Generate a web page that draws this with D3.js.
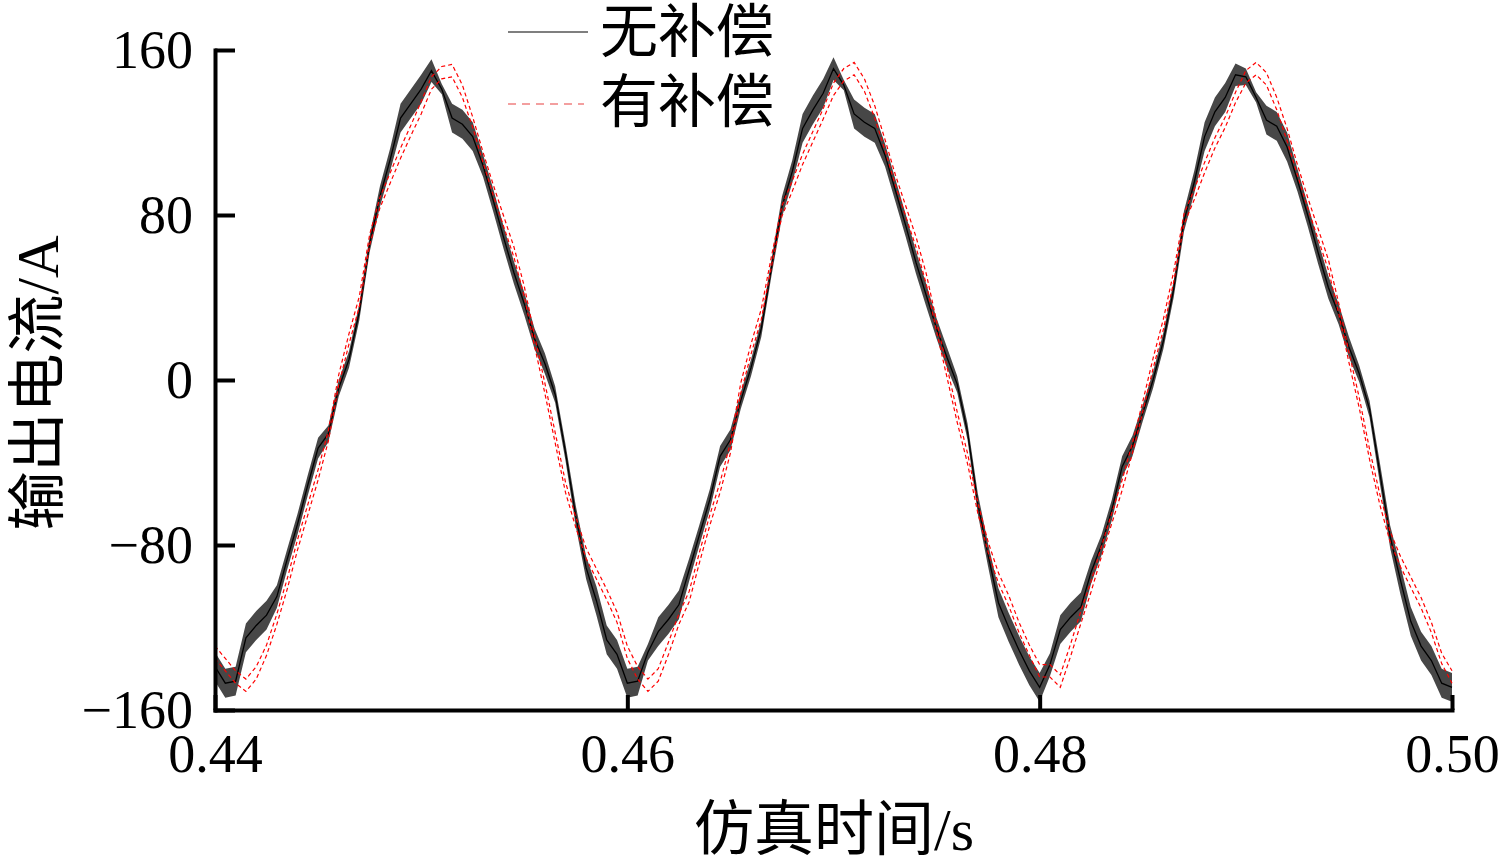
<!DOCTYPE html>
<html>
<head>
<meta charset="utf-8">
<script src="https://cdn.jsdelivr.net/npm/d3@7"></script>
<style>
  body { margin: 0; background: #fff; }
  svg text { font-family: "Liberation Serif", "Noto Sans CJK SC", serif; fill: #000; }
</style>
</head>
<body>
<svg id="chart" width="1505" height="866"></svg>
<script>
// sampling of the simulation trace, seconds
var sampleStart = 0.44;
var sampleStep = 0.0005;

var yTicks = [-160, -80, 0, 80, 160];
var xTicks = [0.44, 0.46, 0.48, 0.50];
var seriesNames = ['无补偿', '有补偿'];

// 无补偿 (black) output current, A
var uncompensated = [
  -139, -147, -146, -125, -119, -114, -105, -87, -70, -51, -33, -26, -4, 10, 33, 66, 89, 107, 127, 134,
  141, 150, 141, 127, 124, 118, 104, 87, 69, 52, 37, 20, 8, -7, -35, -66, -91, -107, -126, -133,
  -147, -146, -132, -122, -116, -109, -92, -75, -58, -37, -29, -10, 6, 25, 55, 84, 101, 122, 131, 139,
  151, 143, 129, 125, 122, 109, 92, 75, 57, 41, 25, 11, -2, -25, -60, -85, -108, -120, -131, -141,
  -149, -138, -121, -115, -110, -93, -80, -63, -42, -32, -16, 0, 19, 44, 77, 96, 118, 130, 137, 148,
  147, 137, 126, 123, 113, 97, 80, 62, 45, 32, 16, 3, -14, -45, -76, -97, -117, -129, -136, -147,
  -149
];
// switching ripple of the black trace, peak to peak, A
var uncompensatedRipple = [
  14, 14, 14, 14, 14, 14, 11, 10, 10, 10, 10, 8, 8, 8, 8, 8, 10, 11, 14, 14,
  14, 11, 5, 14, 14, 14, 11, 11, 11, 11, 11, 10, 10, 8, 8, 10, 11, 14, 14, 14,
  14, 14, 8, 14, 14, 14, 11, 10, 10, 10, 10, 8, 8, 8, 8, 10, 11, 14, 14, 14,
  11, 5, 14, 14, 14, 11, 11, 11, 11, 11, 10, 10, 8, 8, 10, 11, 14, 14, 14, 14,
  14, 11, 14, 14, 14, 11, 10, 10, 10, 10, 8, 8, 8, 8, 10, 11, 14, 14, 14, 11,
  8, 5, 14, 14, 14, 11, 11, 11, 11, 10, 10, 8, 8, 10, 11, 14, 14, 14, 14, 14,
  14
];

// 有补偿 (red dashed) output current, A
var compensated = [
  -132, -138, -144, -148, -142, -131, -116, -99, -80, -63, -46, -27, 0, 20, 38, 68, 86, 98, 110, 121,
  132, 144, 149, 150, 140, 125, 108, 92, 77, 62, 43, 19, -4, -28, -52, -69, -84, -94, -104, -115,
  -132, -142, -148, -143, -130, -116, -105, -86, -68, -52, -33, -4, 15, 32, 58, 82, 94, 107, 118, 129,
  141, 148, 151, 143, 130, 114, 97, 82, 67, 49, 26, 4, -18, -38, -62, -81, -96, -107, -120, -131,
  -141, -141, -146, -131, -115, -100, -83, -67, -51, -33, -13, 8, 27, 50, 78, 90, 103, 115, 125, 137,
  147, 151, 146, 134, 119, 102, 86, 71, 56, 35, 11, -11, -36, -58, -76, -88, -98, -108, -120, -135,
  -144
];
var compensatedRipple = [
  6, 6, 6, 6, 6, 5, 5, 5, 5, 5, 5, 5, 5, 5, 5, 5, 5, 5, 5, 5,
  6, 6, 6, 6, 6, 5, 5, 5, 5, 5, 5, 5, 5, 5, 5, 5, 5, 5, 5, 5,
  6, 6, 6, 6, 6, 5, 5, 5, 5, 5, 5, 5, 5, 5, 5, 5, 5, 5, 5, 5,
  6, 6, 6, 6, 6, 5, 5, 5, 5, 5, 5, 5, 5, 5, 5, 5, 5, 5, 5, 5,
  6, 6, 6, 6, 6, 5, 5, 5, 5, 5, 5, 5, 5, 5, 5, 5, 5, 5, 5, 5,
  6, 6, 6, 6, 6, 5, 5, 5, 5, 5, 5, 5, 5, 5, 5, 5, 5, 5, 5, 5,
  6
];

(function() {
    var svg = d3.select('#chart');
    var left = 215, right = 1452, top = 50, bottom = 710;

    var x = d3.scaleLinear().domain([0.44, 0.50]).range([left, right]);
    var y = d3.scaleLinear().domain([-160, 160]).range([bottom, top]);

    function rows(values, ripple) {
        return values.map(function(v, i) {
            return {t: sampleStart + i * sampleStep, v: v, r: ripple[i]};
        });
    }
    var blackData = rows(uncompensated, uncompensatedRipple);
    var redData = rows(compensated, compensatedRipple);

    var plot = svg.append('g');

    // black trace: ripple band + centre line
    plot.append('path')
        .datum(blackData)
        .attr('fill', '#000')
        .attr('fill-opacity', 0.72)
        .attr('d', d3.area()
            .x(function(d) { return x(d.t); })
            .y0(function(d) { return y(d.v - d.r / 2); })
            .y1(function(d) { return y(d.v + d.r / 2); }));
    plot.append('path')
        .datum(blackData)
        .attr('fill', 'none')
        .attr('stroke', '#000')
        .attr('stroke-width', 1.3)
        .attr('d', d3.line()
            .x(function(d) { return x(d.t); })
            .y(function(d) { return y(d.v); }));

    // red trace: upper and lower ripple edges, dashed
    [1, -1].forEach(function(side) {
        plot.append('path')
            .datum(redData)
            .attr('fill', 'none')
            .attr('stroke', '#ff0000')
            .attr('stroke-width', 1.2)
            .attr('stroke-dasharray', '4,3')
            .attr('d', d3.line()
                .x(function(d) { return x(d.t); })
                .y(function(d) { return y(d.v + side * d.r / 2); }));
    });

    // axes
    svg.append('g')
        .attr('transform', 'translate(' + left + ',0)')
        .call(d3.axisLeft(y)
            .tickValues(yTicks)
            .tickSizeInner(-20)
            .tickSizeOuter(0)
            .tickPadding(22)
            .tickFormat(function(d) { return d < 0 ? '\u2212' + Math.abs(d) : d; }));

    svg.append('g')
        .attr('transform', 'translate(0,' + bottom + ')')
        .call(d3.axisBottom(x)
            .tickValues(xTicks)
            .tickSizeInner(-15)
            .tickSizeOuter(0)
            .tickPadding(24)
            .tickFormat(d3.format('.2f')));

    svg.selectAll('.domain')
        .attr('stroke', '#000')
        .attr('stroke-width', 4)
        .attr('stroke-linecap', 'square');
    svg.selectAll('.tick line')
        .attr('stroke', '#000')
        .attr('stroke-width', 4);
    svg.selectAll('.tick text')
        .attr('font-size', 54)
        .attr('font-family', '"Liberation Serif", serif');

    // axis titles
    svg.append('text')
        .attr('transform', 'translate(58,383) rotate(-90)')
        .attr('text-anchor', 'middle')
        .attr('font-size', 59)
        .text('输出电流/A');
    svg.append('text')
        .attr('x', 834)
        .attr('y', 850)
        .attr('text-anchor', 'middle')
        .attr('font-size', 60)
        .text('仿真时间/s');

    // legend
    var legend = svg.append('g');
    legend.append('line')
        .attr('x1', 508).attr('x2', 588)
        .attr('y1', 32).attr('y2', 32)
        .attr('stroke', '#555').attr('stroke-width', 1.5);
    legend.append('line')
        .attr('x1', 508).attr('x2', 584)
        .attr('y1', 104).attr('y2', 104)
        .attr('stroke', '#f08080').attr('stroke-width', 1.5)
        .attr('stroke-dasharray', '8,6');
    legend.selectAll('text.lg')
        .data(seriesNames)
        .enter().append('text')
        .attr('class', 'lg')
        .attr('x', 600)
        .attr('y', function(d, i) { return 52 + i * 70; })
        .attr('font-size', 58)
        .text(function(d) { return d; });
})();
</script>
</body>
</html>
